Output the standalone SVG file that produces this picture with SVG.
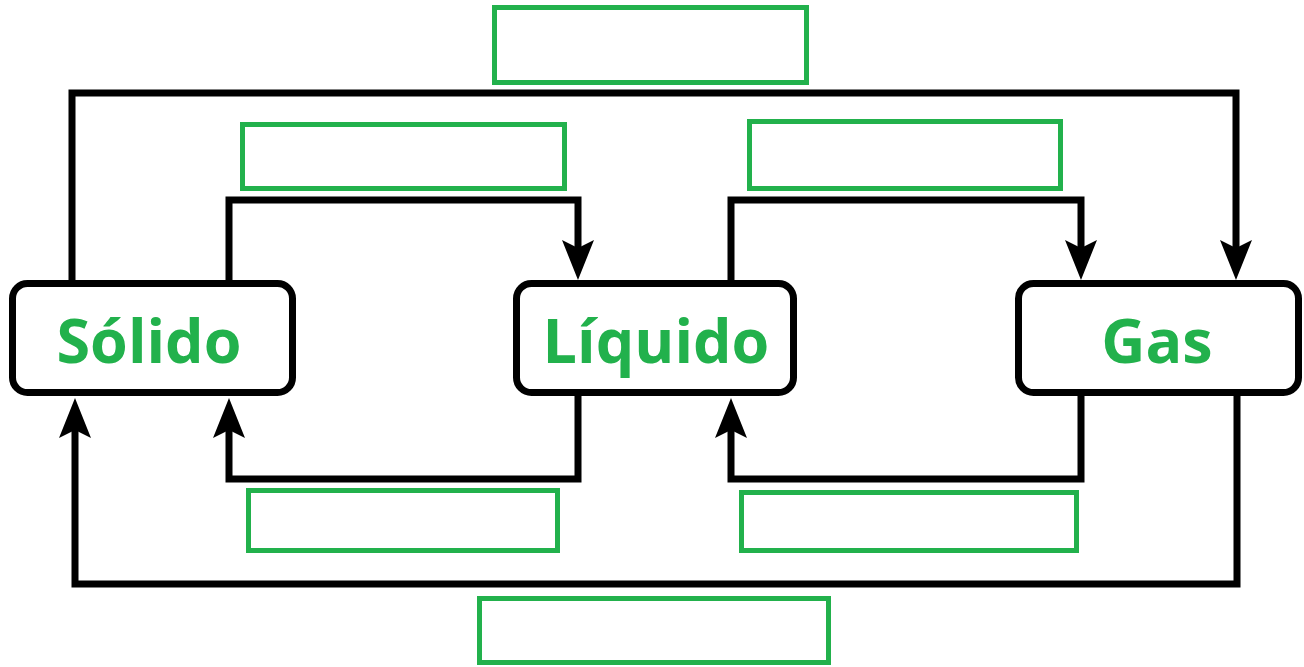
<svg xmlns="http://www.w3.org/2000/svg" width="1304" height="667" viewBox="0 0 1304 667">
<defs>
<style>
.node{fill:#fff;stroke:#000;stroke-width:7}
.lbl{font-family:"Open Sans","DejaVu Sans",sans-serif;font-weight:bold;font-size:61px;fill:#22b14c;text-anchor:middle}
.blank{fill:none;stroke:#22b14c;stroke-width:5}
.conn{fill:none;stroke:#000;stroke-width:7;stroke-linejoin:miter}
</style>
<marker id="arr" markerUnits="userSpaceOnUse" markerWidth="44" markerHeight="36" viewBox="0 -18 44 36" refX="8" refY="0" orient="auto">
<path d="M0,-16 L40,0 L0,16 L8,0 Z" fill="#000"/>
</marker>
</defs>
<g id="connectors">
<path class="conn" d="M72,282 V93 H1236 V248" marker-end="url(#arr)"/>
<path class="conn" d="M229,282 V200 H578 V248" marker-end="url(#arr)"/>
<path class="conn" d="M731,282 V200 H1081 V248" marker-end="url(#arr)"/>
<path class="conn" d="M578,395 V479 H229 V430" marker-end="url(#arr)"/>
<path class="conn" d="M1081,395 V479 H731 V430" marker-end="url(#arr)"/>
<path class="conn" d="M1237,395 V584 H75 V430" marker-end="url(#arr)"/>
</g>
<g id="solido"><rect class="node" x="12.5" y="283.5" width="280" height="109" rx="15"/><text class="lbl" x="149" y="363">Sólido</text></g>
<g id="liquido"><rect class="node" x="516.5" y="283.5" width="277" height="109" rx="15"/><text class="lbl" x="656" y="363">Líquido</text></g>
<g id="gas"><rect class="node" x="1018.5" y="283.5" width="280" height="109" rx="15"/><text class="lbl" x="1157" y="363">Gas</text></g>
<g id="blank-top"><rect class="blank" x="494.5" y="7.5" width="312" height="75"/></g>
<g id="blank-sl"><rect class="blank" x="242.5" y="124.5" width="322" height="64"/></g>
<g id="blank-lg"><rect class="blank" x="749.5" y="121.5" width="311" height="67"/></g>
<g id="blank-ls"><rect class="blank" x="248.5" y="490.5" width="309" height="60"/></g>
<g id="blank-gl"><rect class="blank" x="741.5" y="492.5" width="335" height="58"/></g>
<g id="blank-bottom"><rect class="blank" x="479.5" y="598.5" width="349" height="64"/></g>
</svg>
